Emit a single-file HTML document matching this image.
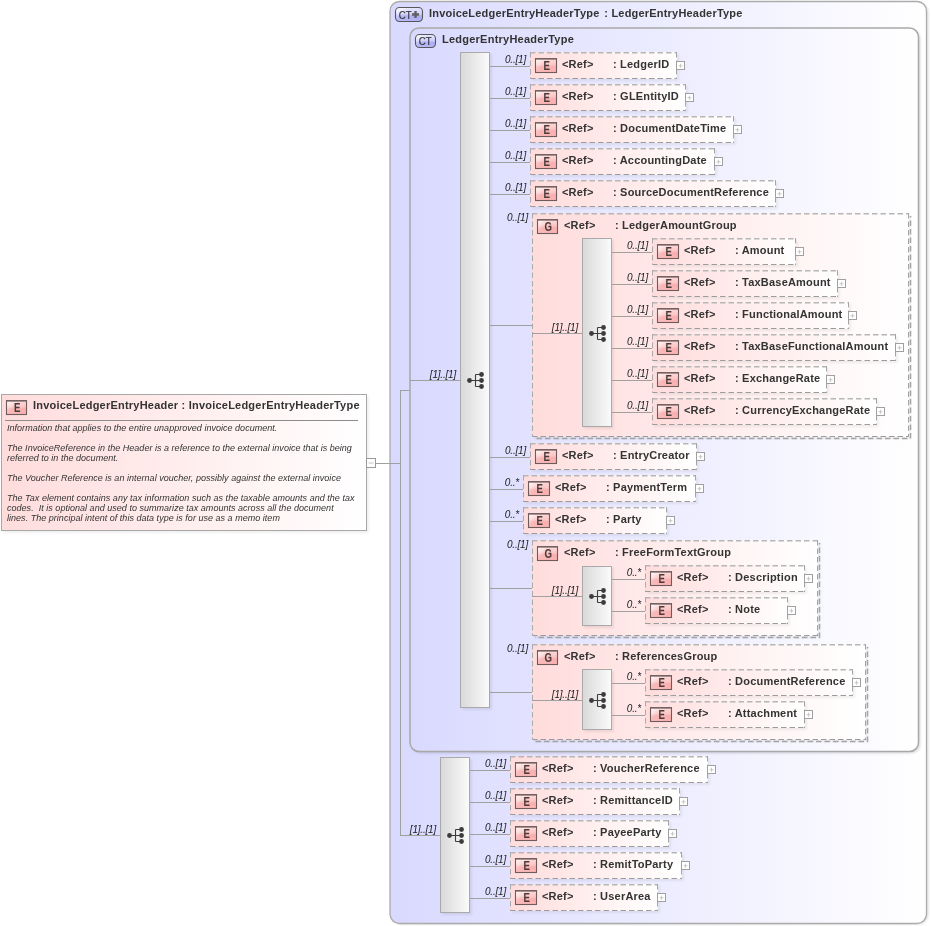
<!DOCTYPE html><html><head><meta charset="utf-8"><style>html,body{margin:0;padding:0;background:#fff;width:931px;height:926px;overflow:hidden}svg{display:block;will-change:transform}text{font-family:"Liberation Sans", sans-serif}</style></head><body>
<svg width="931" height="926" viewBox="0 0 931 926">
<defs><linearGradient id="gCT" x1="0" y1="0" x2="1" y2="0"><stop offset="0" stop-color="#d9d9ff"/><stop offset="1" stop-color="#ffffff"/></linearGradient><linearGradient id="gElem" x1="0" y1="0" x2="1" y2="0"><stop offset="0" stop-color="#ffdcdc"/><stop offset="1" stop-color="#ffffff"/></linearGradient><linearGradient id="gRoot" x1="0" y1="0" x2="1" y2="0"><stop offset="0" stop-color="#ffdcdc"/><stop offset="1" stop-color="#ffffff"/></linearGradient><linearGradient id="gSeq" x1="0" y1="0" x2="1" y2="0"><stop offset="0" stop-color="#d9d9d9"/><stop offset="1" stop-color="#fbfbfb"/></linearGradient><linearGradient id="gBadgeV" x1="0" y1="0" x2="0" y2="1"><stop offset="0" stop-color="#ffd6d6"/><stop offset="0.45" stop-color="#fcc4c4"/><stop offset="0.6" stop-color="#f9acac"/><stop offset="1" stop-color="#fbb6b6"/></linearGradient><linearGradient id="gBadgeH" x1="0" y1="0" x2="1" y2="0.6"><stop offset="0" stop-color="#ffffff" stop-opacity="0.95"/><stop offset="0.45" stop-color="#ffffff" stop-opacity="0.1"/><stop offset="1" stop-color="#ffffff" stop-opacity="0"/></linearGradient><linearGradient id="gCTb" x1="0" y1="0" x2="0" y2="1"><stop offset="0" stop-color="#e4e4ff"/><stop offset="0.45" stop-color="#d0d0fc"/><stop offset="0.6" stop-color="#acacf6"/><stop offset="1" stop-color="#b4b4f8"/></linearGradient><filter id="blur1" x="-5%" y="-5%" width="110%" height="110%"><feGaussianBlur stdDeviation="1"/></filter></defs>
<rect x="3" y="396" width="366" height="137" rx="0" fill="#000" opacity="0.06" filter="url(#blur1)"/>
<rect x="1.5" y="394.5" width="365" height="136" fill="url(#gRoot)" stroke="#a8a8a8" stroke-width="1"/>
<rect x="6.5" y="400.5" width="20" height="14" fill="url(#gBadgeV)"/>
<rect x="6.5" y="400.5" width="20" height="14" fill="url(#gBadgeH)"/>
<rect x="6.5" y="400.6" width="20" height="13.9" fill="none" stroke="#6e5c5c" stroke-width="1.1"/>
<rect x="7" y="401" width="19" height="1" fill="#8a7878" opacity="0.7"/>
<text transform="translate(17.3 412) scale(0.8 1)" text-anchor="middle" font-size="12" font-weight="bold" fill="#4a3b3b" stroke="#4a3b3b" stroke-width="0.1">E</text>
<text x="33" y="409" font-size="11" font-weight="bold" fill="#333" letter-spacing="0.22">InvoiceLedgerEntryHeader : InvoiceLedgerEntryHeaderType</text>
<rect x="5" y="420" width="353" height="1" fill="#8c8c8c"/>
<text x="7" y="430.5" font-size="9" font-style="italic" letter-spacing="0.025" fill="#333">Information that applies to the entire unapproved invoice document.</text>
<text x="7" y="450.5" font-size="9" font-style="italic" letter-spacing="0.025" fill="#333">The InvoiceReference in the Header is a reference to the external invoice that is being</text>
<text x="7" y="460.5" font-size="9" font-style="italic" letter-spacing="0.025" fill="#333">referred to in the document.</text>
<text x="7" y="480.5" font-size="9" font-style="italic" letter-spacing="0.025" fill="#333">The Voucher Reference is an internal voucher, possibly against the external invoice</text>
<text x="7" y="501" font-size="9" font-style="italic" letter-spacing="0.025" fill="#333">The Tax element contains any tax information such as the taxable amounts and the tax</text>
<text x="7" y="511" font-size="9" font-style="italic" letter-spacing="0.025" fill="#333">codes.&#160; It is optional and used to summarize tax amounts across all the document</text>
<text x="7" y="521" font-size="9" font-style="italic" letter-spacing="0.025" fill="#333">lines. The principal intent of this data type is for use as a memo item</text>
<rect x="366.5" y="458.5" width="9" height="9" fill="#fff" stroke="#9a9a9a"/>
<path d="M368.5 463h5" stroke="#c4c4c4" stroke-width="1"/>
<rect x="391.5" y="2.5" width="537" height="922" rx="10" fill="#000" opacity="0.12" filter="url(#blur1)"/>
<rect x="390" y="1.5" width="536.5" height="922" rx="9.5" fill="url(#gCT)" stroke="#ababab" stroke-width="1.3"/>
<rect x="395.5" y="7.5" width="27" height="14" rx="4" fill="url(#gCTb)"/>
<rect x="395.5" y="7.5" width="27" height="14" rx="4" fill="url(#gBadgeH)" stroke="#585858" stroke-width="1.1"/>
<text transform="translate(398.8 18.6) scale(0.92 1)" font-size="10.5" fill="#333" stroke="#333" stroke-width="0.15">CT</text>
<path d="M412 14.5h7M415.5 11v7" stroke="#606060" stroke-width="2.4"/>
<text x="429" y="16.8" font-size="11" font-weight="bold" fill="#333" letter-spacing="0.2">InvoiceLedgerEntryHeaderType</text><text x="604.3" y="16.8" font-size="11" font-weight="bold" fill="#333" letter-spacing="0.2">: LedgerEntryHeaderType</text>
<rect x="376" y="463" width="24" height="1" fill="#a0a0a0"/>
<rect x="400" y="390" width="1" height="446" fill="#a0a0a0"/>
<rect x="400" y="390" width="10" height="1" fill="#a0a0a0"/>
<rect x="400" y="835" width="40" height="1" fill="#a0a0a0"/>
<rect x="411.5" y="29.5" width="509" height="724" rx="9" fill="#000" opacity="0.12" filter="url(#blur1)"/>
<rect x="410" y="28" width="508.5" height="723.5" rx="9" fill="url(#gCT)" stroke="#a8a8a8" stroke-width="1.5"/>
<rect x="415.5" y="34.5" width="20" height="13" rx="4" fill="url(#gCTb)"/>
<rect x="415.5" y="34.5" width="20" height="13" rx="4" fill="url(#gBadgeH)" stroke="#585858" stroke-width="1.1"/>
<text transform="translate(418.8 45.3) scale(0.92 1)" font-size="10.5" fill="#333" stroke="#333" stroke-width="0.15">CT</text>
<text x="442" y="43.2" font-size="11" font-weight="bold" fill="#333" letter-spacing="0.24">LedgerEntryHeaderType</text>
<rect x="410" y="380" width="50" height="1" fill="#a0a0a0"/>
<text transform="translate(456 378) scale(0.5)" text-anchor="end" font-size="20" font-style="italic" letter-spacing="-0.4" fill="#1a1a1a">[1]..[1]</text>
<rect x="462" y="54" width="30" height="656" fill="#000" opacity="0.07" filter="url(#blur1)"/>
<rect x="460.5" y="52.5" width="29" height="655" fill="url(#gSeq)" stroke="#a9a9a9" stroke-width="1"/>
<g fill="#3c3c3c" stroke="none"><circle cx="469.5" cy="380.5" r="2.4"/><circle cx="481.5" cy="374.5" r="2.4"/><circle cx="481.5" cy="380.5" r="2.4"/><circle cx="481.5" cy="386.5" r="2.4"/></g>
<path d="M469.5 380.5H481.5M475.5 374.5V386.5M475.5 374.5H481.5M475.5 386.5H481.5" stroke="#3c3c3c" stroke-width="1.1" fill="none"/>
<rect x="490" y="66" width="40" height="1" fill="#a0a0a0"/>
<text transform="translate(526 63) scale(0.5)" text-anchor="end" font-size="20" font-style="italic" letter-spacing="-0.4" fill="#1a1a1a">0..[1]</text>
<rect x="532" y="54" width="147" height="27" rx="0" fill="#000" opacity="0.06" filter="url(#blur1)"/>
<rect x="530" y="52" width="147" height="27" fill="url(#gElem)"/>
<path d="M530 52.75H677" stroke="#b6b6b6" stroke-width="1.5" stroke-dasharray="5.5,3"/>
<path d="M530 78.5H677" stroke="#9c9c9c" stroke-width="1" stroke-dasharray="5.5,3"/>
<path d="M530.5 52V79" stroke="#aaaaaa" stroke-width="1" stroke-dasharray="5.5,3"/>
<path d="M676.5 52V79" stroke="#a4a4a4" stroke-width="1" stroke-dasharray="5.5,3"/>
<rect x="535.5" y="58.5" width="21" height="14" fill="url(#gBadgeV)"/>
<rect x="535.5" y="58.5" width="21" height="14" fill="url(#gBadgeH)"/>
<rect x="535.5" y="58.6" width="21" height="13.9" fill="none" stroke="#6e5c5c" stroke-width="1.1"/>
<rect x="536" y="59" width="20" height="1" fill="#8a7878" opacity="0.7"/>
<text transform="translate(546.8 70) scale(0.8 1)" text-anchor="middle" font-size="12" font-weight="bold" fill="#4a3b3b" stroke="#4a3b3b" stroke-width="0.1">E</text>
<text x="562" y="68.2" font-size="11" font-weight="bold" fill="#333" letter-spacing="0.2">&lt;Ref&gt;</text>
<text x="613" y="68.2" font-size="11" font-weight="bold" fill="#333" letter-spacing="0.2">: LedgerID</text>
<rect x="676.5" y="61.5" width="8" height="8" fill="#fff" stroke="#a0a0a0" stroke-width="1"/>
<path d="M678.5 65.75h4M680.5 63.75v4" stroke="#c8c8c8" stroke-width="1.1"/>
<rect x="490" y="98" width="40" height="1" fill="#a0a0a0"/>
<text transform="translate(526 95) scale(0.5)" text-anchor="end" font-size="20" font-style="italic" letter-spacing="-0.4" fill="#1a1a1a">0..[1]</text>
<rect x="532" y="86" width="156" height="27" rx="0" fill="#000" opacity="0.06" filter="url(#blur1)"/>
<rect x="530" y="84" width="156" height="27" fill="url(#gElem)"/>
<path d="M530 84.75H686" stroke="#b6b6b6" stroke-width="1.5" stroke-dasharray="5.5,3"/>
<path d="M530 110.5H686" stroke="#9c9c9c" stroke-width="1" stroke-dasharray="5.5,3"/>
<path d="M530.5 84V111" stroke="#aaaaaa" stroke-width="1" stroke-dasharray="5.5,3"/>
<path d="M685.5 84V111" stroke="#a4a4a4" stroke-width="1" stroke-dasharray="5.5,3"/>
<rect x="535.5" y="90.5" width="21" height="14" fill="url(#gBadgeV)"/>
<rect x="535.5" y="90.5" width="21" height="14" fill="url(#gBadgeH)"/>
<rect x="535.5" y="90.6" width="21" height="13.9" fill="none" stroke="#6e5c5c" stroke-width="1.1"/>
<rect x="536" y="91" width="20" height="1" fill="#8a7878" opacity="0.7"/>
<text transform="translate(546.8 102) scale(0.8 1)" text-anchor="middle" font-size="12" font-weight="bold" fill="#4a3b3b" stroke="#4a3b3b" stroke-width="0.1">E</text>
<text x="562" y="100.2" font-size="11" font-weight="bold" fill="#333" letter-spacing="0.2">&lt;Ref&gt;</text>
<text x="613" y="100.2" font-size="11" font-weight="bold" fill="#333" letter-spacing="0.2">: GLEntityID</text>
<rect x="685.5" y="93.5" width="8" height="8" fill="#fff" stroke="#a0a0a0" stroke-width="1"/>
<path d="M687.5 97.75h4M689.5 95.75v4" stroke="#c8c8c8" stroke-width="1.1"/>
<rect x="490" y="130" width="40" height="1" fill="#a0a0a0"/>
<text transform="translate(526 127) scale(0.5)" text-anchor="end" font-size="20" font-style="italic" letter-spacing="-0.4" fill="#1a1a1a">0..[1]</text>
<rect x="532" y="118" width="204" height="27" rx="0" fill="#000" opacity="0.06" filter="url(#blur1)"/>
<rect x="530" y="116" width="204" height="27" fill="url(#gElem)"/>
<path d="M530 116.75H734" stroke="#b6b6b6" stroke-width="1.5" stroke-dasharray="5.5,3"/>
<path d="M530 142.5H734" stroke="#9c9c9c" stroke-width="1" stroke-dasharray="5.5,3"/>
<path d="M530.5 116V143" stroke="#aaaaaa" stroke-width="1" stroke-dasharray="5.5,3"/>
<path d="M733.5 116V143" stroke="#a4a4a4" stroke-width="1" stroke-dasharray="5.5,3"/>
<rect x="535.5" y="122.5" width="21" height="14" fill="url(#gBadgeV)"/>
<rect x="535.5" y="122.5" width="21" height="14" fill="url(#gBadgeH)"/>
<rect x="535.5" y="122.6" width="21" height="13.9" fill="none" stroke="#6e5c5c" stroke-width="1.1"/>
<rect x="536" y="123" width="20" height="1" fill="#8a7878" opacity="0.7"/>
<text transform="translate(546.8 134) scale(0.8 1)" text-anchor="middle" font-size="12" font-weight="bold" fill="#4a3b3b" stroke="#4a3b3b" stroke-width="0.1">E</text>
<text x="562" y="132.2" font-size="11" font-weight="bold" fill="#333" letter-spacing="0.2">&lt;Ref&gt;</text>
<text x="613" y="132.2" font-size="11" font-weight="bold" fill="#333" letter-spacing="0.2">: DocumentDateTime</text>
<rect x="733.5" y="125.5" width="8" height="8" fill="#fff" stroke="#a0a0a0" stroke-width="1"/>
<path d="M735.5 129.75h4M737.5 127.75v4" stroke="#c8c8c8" stroke-width="1.1"/>
<rect x="490" y="162" width="40" height="1" fill="#a0a0a0"/>
<text transform="translate(526 159) scale(0.5)" text-anchor="end" font-size="20" font-style="italic" letter-spacing="-0.4" fill="#1a1a1a">0..[1]</text>
<rect x="532" y="150" width="185" height="27" rx="0" fill="#000" opacity="0.06" filter="url(#blur1)"/>
<rect x="530" y="148" width="185" height="27" fill="url(#gElem)"/>
<path d="M530 148.75H715" stroke="#b6b6b6" stroke-width="1.5" stroke-dasharray="5.5,3"/>
<path d="M530 174.5H715" stroke="#9c9c9c" stroke-width="1" stroke-dasharray="5.5,3"/>
<path d="M530.5 148V175" stroke="#aaaaaa" stroke-width="1" stroke-dasharray="5.5,3"/>
<path d="M714.5 148V175" stroke="#a4a4a4" stroke-width="1" stroke-dasharray="5.5,3"/>
<rect x="535.5" y="154.5" width="21" height="14" fill="url(#gBadgeV)"/>
<rect x="535.5" y="154.5" width="21" height="14" fill="url(#gBadgeH)"/>
<rect x="535.5" y="154.6" width="21" height="13.9" fill="none" stroke="#6e5c5c" stroke-width="1.1"/>
<rect x="536" y="155" width="20" height="1" fill="#8a7878" opacity="0.7"/>
<text transform="translate(546.8 166) scale(0.8 1)" text-anchor="middle" font-size="12" font-weight="bold" fill="#4a3b3b" stroke="#4a3b3b" stroke-width="0.1">E</text>
<text x="562" y="164.2" font-size="11" font-weight="bold" fill="#333" letter-spacing="0.2">&lt;Ref&gt;</text>
<text x="613" y="164.2" font-size="11" font-weight="bold" fill="#333" letter-spacing="0.2">: AccountingDate</text>
<rect x="714.5" y="157.5" width="8" height="8" fill="#fff" stroke="#a0a0a0" stroke-width="1"/>
<path d="M716.5 161.75h4M718.5 159.75v4" stroke="#c8c8c8" stroke-width="1.1"/>
<rect x="490" y="194" width="40" height="1" fill="#a0a0a0"/>
<text transform="translate(526 191) scale(0.5)" text-anchor="end" font-size="20" font-style="italic" letter-spacing="-0.4" fill="#1a1a1a">0..[1]</text>
<rect x="532" y="182" width="246" height="27" rx="0" fill="#000" opacity="0.06" filter="url(#blur1)"/>
<rect x="530" y="180" width="246" height="27" fill="url(#gElem)"/>
<path d="M530 180.75H776" stroke="#b6b6b6" stroke-width="1.5" stroke-dasharray="5.5,3"/>
<path d="M530 206.5H776" stroke="#9c9c9c" stroke-width="1" stroke-dasharray="5.5,3"/>
<path d="M530.5 180V207" stroke="#aaaaaa" stroke-width="1" stroke-dasharray="5.5,3"/>
<path d="M775.5 180V207" stroke="#a4a4a4" stroke-width="1" stroke-dasharray="5.5,3"/>
<rect x="535.5" y="186.5" width="21" height="14" fill="url(#gBadgeV)"/>
<rect x="535.5" y="186.5" width="21" height="14" fill="url(#gBadgeH)"/>
<rect x="535.5" y="186.6" width="21" height="13.9" fill="none" stroke="#6e5c5c" stroke-width="1.1"/>
<rect x="536" y="187" width="20" height="1" fill="#8a7878" opacity="0.7"/>
<text transform="translate(546.8 198) scale(0.8 1)" text-anchor="middle" font-size="12" font-weight="bold" fill="#4a3b3b" stroke="#4a3b3b" stroke-width="0.1">E</text>
<text x="562" y="196.2" font-size="11" font-weight="bold" fill="#333" letter-spacing="0.2">&lt;Ref&gt;</text>
<text x="613" y="196.2" font-size="11" font-weight="bold" fill="#333" letter-spacing="0.2">: SourceDocumentReference</text>
<rect x="775.5" y="189.5" width="8" height="8" fill="#fff" stroke="#a0a0a0" stroke-width="1"/>
<path d="M777.5 193.75h4M779.5 191.75v4" stroke="#c8c8c8" stroke-width="1.1"/>
<rect x="490" y="325" width="42" height="1" fill="#a0a0a0"/>
<text transform="translate(528 221) scale(0.5)" text-anchor="end" font-size="20" font-style="italic" letter-spacing="-0.4" fill="#1a1a1a">0..[1]</text>
<rect x="534" y="215" width="377" height="224" rx="0" fill="#000" opacity="0.06" filter="url(#blur1)"/>
<rect x="532" y="213" width="377" height="224" fill="url(#gElem)"/>
<path d="M532 213.75H909" stroke="#b6b6b6" stroke-width="1.5" stroke-dasharray="5.5,3"/>
<path d="M532 436.5H909" stroke="#9c9c9c" stroke-width="1" stroke-dasharray="5.5,3"/>
<path d="M532.5 213V437" stroke="#aaaaaa" stroke-width="1" stroke-dasharray="5.5,3"/>
<path d="M908.5 213V437" stroke="#a4a4a4" stroke-width="1" stroke-dasharray="5.5,3"/>
<path d="M910.5 216V438.5H535" fill="none" stroke="#a4a4a4" stroke-width="1.5" stroke-dasharray="5.5,3" stroke-dashoffset="4"/>
<rect x="537.5" y="219.5" width="20" height="14" fill="url(#gBadgeV)"/>
<rect x="537.5" y="219.5" width="20" height="14" fill="url(#gBadgeH)"/>
<rect x="537.5" y="219.6" width="20" height="13.9" fill="none" stroke="#6e5c5c" stroke-width="1.1"/>
<rect x="538" y="220" width="19" height="1" fill="#8a7878" opacity="0.7"/>
<text transform="translate(548.3 231) scale(0.8 1)" text-anchor="middle" font-size="12" font-weight="bold" fill="#4a3b3b" stroke="#4a3b3b" stroke-width="0.1">G</text>
<text x="564" y="229" font-size="11" font-weight="bold" fill="#333" letter-spacing="0.2">&lt;Ref&gt;</text>
<text x="615" y="229" font-size="11" font-weight="bold" fill="#333" letter-spacing="0.2">: LedgerAmountGroup</text>
<rect x="532" y="333" width="50" height="1" fill="#a0a0a0"/>
<text transform="translate(578 331) scale(0.5)" text-anchor="end" font-size="20" font-style="italic" letter-spacing="-0.4" fill="#1a1a1a">[1]..[1]</text>
<rect x="584" y="240" width="30" height="189" fill="#000" opacity="0.07" filter="url(#blur1)"/>
<rect x="582.5" y="238.5" width="29" height="188" fill="url(#gSeq)" stroke="#a9a9a9" stroke-width="1"/>
<g fill="#3c3c3c" stroke="none"><circle cx="591.5" cy="333.5" r="2.4"/><circle cx="603.5" cy="327.5" r="2.4"/><circle cx="603.5" cy="333.5" r="2.4"/><circle cx="603.5" cy="339.5" r="2.4"/></g>
<path d="M591.5 333.5H603.5M597.5 327.5V339.5M597.5 327.5H603.5M597.5 339.5H603.5" stroke="#3c3c3c" stroke-width="1.1" fill="none"/>
<rect x="612" y="252" width="40" height="1" fill="#a0a0a0"/>
<text transform="translate(648 249) scale(0.5)" text-anchor="end" font-size="20" font-style="italic" letter-spacing="-0.4" fill="#1a1a1a">0..[1]</text>
<rect x="654" y="240" width="144" height="27" rx="0" fill="#000" opacity="0.06" filter="url(#blur1)"/>
<rect x="652" y="238" width="144" height="27" fill="url(#gElem)"/>
<path d="M652 238.75H796" stroke="#b6b6b6" stroke-width="1.5" stroke-dasharray="5.5,3"/>
<path d="M652 264.5H796" stroke="#9c9c9c" stroke-width="1" stroke-dasharray="5.5,3"/>
<path d="M652.5 238V265" stroke="#aaaaaa" stroke-width="1" stroke-dasharray="5.5,3"/>
<path d="M795.5 238V265" stroke="#a4a4a4" stroke-width="1" stroke-dasharray="5.5,3"/>
<rect x="657.5" y="244.5" width="21" height="14" fill="url(#gBadgeV)"/>
<rect x="657.5" y="244.5" width="21" height="14" fill="url(#gBadgeH)"/>
<rect x="657.5" y="244.6" width="21" height="13.9" fill="none" stroke="#6e5c5c" stroke-width="1.1"/>
<rect x="658" y="245" width="20" height="1" fill="#8a7878" opacity="0.7"/>
<text transform="translate(668.8 256) scale(0.8 1)" text-anchor="middle" font-size="12" font-weight="bold" fill="#4a3b3b" stroke="#4a3b3b" stroke-width="0.1">E</text>
<text x="684" y="254.2" font-size="11" font-weight="bold" fill="#333" letter-spacing="0.2">&lt;Ref&gt;</text>
<text x="735" y="254.2" font-size="11" font-weight="bold" fill="#333" letter-spacing="0.2">: Amount</text>
<rect x="795.5" y="247.5" width="8" height="8" fill="#fff" stroke="#a0a0a0" stroke-width="1"/>
<path d="M797.5 251.75h4M799.5 249.75v4" stroke="#c8c8c8" stroke-width="1.1"/>
<rect x="612" y="284" width="40" height="1" fill="#a0a0a0"/>
<text transform="translate(648 281) scale(0.5)" text-anchor="end" font-size="20" font-style="italic" letter-spacing="-0.4" fill="#1a1a1a">0..[1]</text>
<rect x="654" y="272" width="186" height="27" rx="0" fill="#000" opacity="0.06" filter="url(#blur1)"/>
<rect x="652" y="270" width="186" height="27" fill="url(#gElem)"/>
<path d="M652 270.75H838" stroke="#b6b6b6" stroke-width="1.5" stroke-dasharray="5.5,3"/>
<path d="M652 296.5H838" stroke="#9c9c9c" stroke-width="1" stroke-dasharray="5.5,3"/>
<path d="M652.5 270V297" stroke="#aaaaaa" stroke-width="1" stroke-dasharray="5.5,3"/>
<path d="M837.5 270V297" stroke="#a4a4a4" stroke-width="1" stroke-dasharray="5.5,3"/>
<rect x="657.5" y="276.5" width="21" height="14" fill="url(#gBadgeV)"/>
<rect x="657.5" y="276.5" width="21" height="14" fill="url(#gBadgeH)"/>
<rect x="657.5" y="276.6" width="21" height="13.9" fill="none" stroke="#6e5c5c" stroke-width="1.1"/>
<rect x="658" y="277" width="20" height="1" fill="#8a7878" opacity="0.7"/>
<text transform="translate(668.8 288) scale(0.8 1)" text-anchor="middle" font-size="12" font-weight="bold" fill="#4a3b3b" stroke="#4a3b3b" stroke-width="0.1">E</text>
<text x="684" y="286.2" font-size="11" font-weight="bold" fill="#333" letter-spacing="0.2">&lt;Ref&gt;</text>
<text x="735" y="286.2" font-size="11" font-weight="bold" fill="#333" letter-spacing="0.2">: TaxBaseAmount</text>
<rect x="837.5" y="279.5" width="8" height="8" fill="#fff" stroke="#a0a0a0" stroke-width="1"/>
<path d="M839.5 283.75h4M841.5 281.75v4" stroke="#c8c8c8" stroke-width="1.1"/>
<rect x="612" y="316" width="40" height="1" fill="#a0a0a0"/>
<text transform="translate(648 313) scale(0.5)" text-anchor="end" font-size="20" font-style="italic" letter-spacing="-0.4" fill="#1a1a1a">0..[1]</text>
<rect x="654" y="304" width="197" height="27" rx="0" fill="#000" opacity="0.06" filter="url(#blur1)"/>
<rect x="652" y="302" width="197" height="27" fill="url(#gElem)"/>
<path d="M652 302.75H849" stroke="#b6b6b6" stroke-width="1.5" stroke-dasharray="5.5,3"/>
<path d="M652 328.5H849" stroke="#9c9c9c" stroke-width="1" stroke-dasharray="5.5,3"/>
<path d="M652.5 302V329" stroke="#aaaaaa" stroke-width="1" stroke-dasharray="5.5,3"/>
<path d="M848.5 302V329" stroke="#a4a4a4" stroke-width="1" stroke-dasharray="5.5,3"/>
<rect x="657.5" y="308.5" width="21" height="14" fill="url(#gBadgeV)"/>
<rect x="657.5" y="308.5" width="21" height="14" fill="url(#gBadgeH)"/>
<rect x="657.5" y="308.6" width="21" height="13.9" fill="none" stroke="#6e5c5c" stroke-width="1.1"/>
<rect x="658" y="309" width="20" height="1" fill="#8a7878" opacity="0.7"/>
<text transform="translate(668.8 320) scale(0.8 1)" text-anchor="middle" font-size="12" font-weight="bold" fill="#4a3b3b" stroke="#4a3b3b" stroke-width="0.1">E</text>
<text x="684" y="318.2" font-size="11" font-weight="bold" fill="#333" letter-spacing="0.2">&lt;Ref&gt;</text>
<text x="735" y="318.2" font-size="11" font-weight="bold" fill="#333" letter-spacing="0.2">: FunctionalAmount</text>
<rect x="848.5" y="311.5" width="8" height="8" fill="#fff" stroke="#a0a0a0" stroke-width="1"/>
<path d="M850.5 315.75h4M852.5 313.75v4" stroke="#c8c8c8" stroke-width="1.1"/>
<rect x="612" y="348" width="40" height="1" fill="#a0a0a0"/>
<text transform="translate(648 345) scale(0.5)" text-anchor="end" font-size="20" font-style="italic" letter-spacing="-0.4" fill="#1a1a1a">0..[1]</text>
<rect x="654" y="336" width="244" height="27" rx="0" fill="#000" opacity="0.06" filter="url(#blur1)"/>
<rect x="652" y="334" width="244" height="27" fill="url(#gElem)"/>
<path d="M652 334.75H896" stroke="#b6b6b6" stroke-width="1.5" stroke-dasharray="5.5,3"/>
<path d="M652 360.5H896" stroke="#9c9c9c" stroke-width="1" stroke-dasharray="5.5,3"/>
<path d="M652.5 334V361" stroke="#aaaaaa" stroke-width="1" stroke-dasharray="5.5,3"/>
<path d="M895.5 334V361" stroke="#a4a4a4" stroke-width="1" stroke-dasharray="5.5,3"/>
<rect x="657.5" y="340.5" width="21" height="14" fill="url(#gBadgeV)"/>
<rect x="657.5" y="340.5" width="21" height="14" fill="url(#gBadgeH)"/>
<rect x="657.5" y="340.6" width="21" height="13.9" fill="none" stroke="#6e5c5c" stroke-width="1.1"/>
<rect x="658" y="341" width="20" height="1" fill="#8a7878" opacity="0.7"/>
<text transform="translate(668.8 352) scale(0.8 1)" text-anchor="middle" font-size="12" font-weight="bold" fill="#4a3b3b" stroke="#4a3b3b" stroke-width="0.1">E</text>
<text x="684" y="350.2" font-size="11" font-weight="bold" fill="#333" letter-spacing="0.2">&lt;Ref&gt;</text>
<text x="735" y="350.2" font-size="11" font-weight="bold" fill="#333" letter-spacing="0.2">: TaxBaseFunctionalAmount</text>
<rect x="895.5" y="343.5" width="8" height="8" fill="#fff" stroke="#a0a0a0" stroke-width="1"/>
<path d="M897.5 347.75h4M899.5 345.75v4" stroke="#c8c8c8" stroke-width="1.1"/>
<rect x="612" y="380" width="40" height="1" fill="#a0a0a0"/>
<text transform="translate(648 377) scale(0.5)" text-anchor="end" font-size="20" font-style="italic" letter-spacing="-0.4" fill="#1a1a1a">0..[1]</text>
<rect x="654" y="368" width="175" height="27" rx="0" fill="#000" opacity="0.06" filter="url(#blur1)"/>
<rect x="652" y="366" width="175" height="27" fill="url(#gElem)"/>
<path d="M652 366.75H827" stroke="#b6b6b6" stroke-width="1.5" stroke-dasharray="5.5,3"/>
<path d="M652 392.5H827" stroke="#9c9c9c" stroke-width="1" stroke-dasharray="5.5,3"/>
<path d="M652.5 366V393" stroke="#aaaaaa" stroke-width="1" stroke-dasharray="5.5,3"/>
<path d="M826.5 366V393" stroke="#a4a4a4" stroke-width="1" stroke-dasharray="5.5,3"/>
<rect x="657.5" y="372.5" width="21" height="14" fill="url(#gBadgeV)"/>
<rect x="657.5" y="372.5" width="21" height="14" fill="url(#gBadgeH)"/>
<rect x="657.5" y="372.6" width="21" height="13.9" fill="none" stroke="#6e5c5c" stroke-width="1.1"/>
<rect x="658" y="373" width="20" height="1" fill="#8a7878" opacity="0.7"/>
<text transform="translate(668.8 384) scale(0.8 1)" text-anchor="middle" font-size="12" font-weight="bold" fill="#4a3b3b" stroke="#4a3b3b" stroke-width="0.1">E</text>
<text x="684" y="382.2" font-size="11" font-weight="bold" fill="#333" letter-spacing="0.2">&lt;Ref&gt;</text>
<text x="735" y="382.2" font-size="11" font-weight="bold" fill="#333" letter-spacing="0.2">: ExchangeRate</text>
<rect x="826.5" y="375.5" width="8" height="8" fill="#fff" stroke="#a0a0a0" stroke-width="1"/>
<path d="M828.5 379.75h4M830.5 377.75v4" stroke="#c8c8c8" stroke-width="1.1"/>
<rect x="612" y="412" width="40" height="1" fill="#a0a0a0"/>
<text transform="translate(648 409) scale(0.5)" text-anchor="end" font-size="20" font-style="italic" letter-spacing="-0.4" fill="#1a1a1a">0..[1]</text>
<rect x="654" y="400" width="225" height="27" rx="0" fill="#000" opacity="0.06" filter="url(#blur1)"/>
<rect x="652" y="398" width="225" height="27" fill="url(#gElem)"/>
<path d="M652 398.75H877" stroke="#b6b6b6" stroke-width="1.5" stroke-dasharray="5.5,3"/>
<path d="M652 424.5H877" stroke="#9c9c9c" stroke-width="1" stroke-dasharray="5.5,3"/>
<path d="M652.5 398V425" stroke="#aaaaaa" stroke-width="1" stroke-dasharray="5.5,3"/>
<path d="M876.5 398V425" stroke="#a4a4a4" stroke-width="1" stroke-dasharray="5.5,3"/>
<rect x="657.5" y="404.5" width="21" height="14" fill="url(#gBadgeV)"/>
<rect x="657.5" y="404.5" width="21" height="14" fill="url(#gBadgeH)"/>
<rect x="657.5" y="404.6" width="21" height="13.9" fill="none" stroke="#6e5c5c" stroke-width="1.1"/>
<rect x="658" y="405" width="20" height="1" fill="#8a7878" opacity="0.7"/>
<text transform="translate(668.8 416) scale(0.8 1)" text-anchor="middle" font-size="12" font-weight="bold" fill="#4a3b3b" stroke="#4a3b3b" stroke-width="0.1">E</text>
<text x="684" y="414.2" font-size="11" font-weight="bold" fill="#333" letter-spacing="0.2">&lt;Ref&gt;</text>
<text x="735" y="414.2" font-size="11" font-weight="bold" fill="#333" letter-spacing="0.2">: CurrencyExchangeRate</text>
<rect x="876.5" y="407.5" width="8" height="8" fill="#fff" stroke="#a0a0a0" stroke-width="1"/>
<path d="M878.5 411.75h4M880.5 409.75v4" stroke="#c8c8c8" stroke-width="1.1"/>
<rect x="490" y="457" width="40" height="1" fill="#a0a0a0"/>
<text transform="translate(526 454) scale(0.5)" text-anchor="end" font-size="20" font-style="italic" letter-spacing="-0.4" fill="#1a1a1a">0..[1]</text>
<rect x="532" y="445" width="167" height="27" rx="0" fill="#000" opacity="0.06" filter="url(#blur1)"/>
<rect x="530" y="443" width="167" height="27" fill="url(#gElem)"/>
<path d="M530 443.75H697" stroke="#b6b6b6" stroke-width="1.5" stroke-dasharray="5.5,3"/>
<path d="M530 469.5H697" stroke="#9c9c9c" stroke-width="1" stroke-dasharray="5.5,3"/>
<path d="M530.5 443V470" stroke="#aaaaaa" stroke-width="1" stroke-dasharray="5.5,3"/>
<path d="M696.5 443V470" stroke="#a4a4a4" stroke-width="1" stroke-dasharray="5.5,3"/>
<rect x="535.5" y="449.5" width="21" height="14" fill="url(#gBadgeV)"/>
<rect x="535.5" y="449.5" width="21" height="14" fill="url(#gBadgeH)"/>
<rect x="535.5" y="449.6" width="21" height="13.9" fill="none" stroke="#6e5c5c" stroke-width="1.1"/>
<rect x="536" y="450" width="20" height="1" fill="#8a7878" opacity="0.7"/>
<text transform="translate(546.8 461) scale(0.8 1)" text-anchor="middle" font-size="12" font-weight="bold" fill="#4a3b3b" stroke="#4a3b3b" stroke-width="0.1">E</text>
<text x="562" y="459.2" font-size="11" font-weight="bold" fill="#333" letter-spacing="0.2">&lt;Ref&gt;</text>
<text x="613" y="459.2" font-size="11" font-weight="bold" fill="#333" letter-spacing="0.2">: EntryCreator</text>
<rect x="696.5" y="452.5" width="8" height="8" fill="#fff" stroke="#a0a0a0" stroke-width="1"/>
<path d="M698.5 456.75h4M700.5 454.75v4" stroke="#c8c8c8" stroke-width="1.1"/>
<rect x="490" y="489" width="33" height="1" fill="#a0a0a0"/>
<text transform="translate(519 486) scale(0.5)" text-anchor="end" font-size="20" font-style="italic" letter-spacing="-0.4" fill="#1a1a1a">0..*</text>
<rect x="525" y="477" width="173" height="27" rx="0" fill="#000" opacity="0.06" filter="url(#blur1)"/>
<rect x="523" y="475" width="173" height="27" fill="url(#gElem)"/>
<path d="M523 475.75H696" stroke="#b6b6b6" stroke-width="1.5" stroke-dasharray="5.5,3"/>
<path d="M523 501.5H696" stroke="#9c9c9c" stroke-width="1" stroke-dasharray="5.5,3"/>
<path d="M523.5 475V502" stroke="#aaaaaa" stroke-width="1" stroke-dasharray="5.5,3"/>
<path d="M695.5 475V502" stroke="#a4a4a4" stroke-width="1" stroke-dasharray="5.5,3"/>
<rect x="528.5" y="481.5" width="21" height="14" fill="url(#gBadgeV)"/>
<rect x="528.5" y="481.5" width="21" height="14" fill="url(#gBadgeH)"/>
<rect x="528.5" y="481.6" width="21" height="13.9" fill="none" stroke="#6e5c5c" stroke-width="1.1"/>
<rect x="529" y="482" width="20" height="1" fill="#8a7878" opacity="0.7"/>
<text transform="translate(539.8 493) scale(0.8 1)" text-anchor="middle" font-size="12" font-weight="bold" fill="#4a3b3b" stroke="#4a3b3b" stroke-width="0.1">E</text>
<text x="555" y="491.2" font-size="11" font-weight="bold" fill="#333" letter-spacing="0.2">&lt;Ref&gt;</text>
<text x="606" y="491.2" font-size="11" font-weight="bold" fill="#333" letter-spacing="0.2">: PaymentTerm</text>
<rect x="695.5" y="484.5" width="8" height="8" fill="#fff" stroke="#a0a0a0" stroke-width="1"/>
<path d="M697.5 488.75h4M699.5 486.75v4" stroke="#c8c8c8" stroke-width="1.1"/>
<rect x="490" y="521" width="33" height="1" fill="#a0a0a0"/>
<text transform="translate(519 518) scale(0.5)" text-anchor="end" font-size="20" font-style="italic" letter-spacing="-0.4" fill="#1a1a1a">0..*</text>
<rect x="525" y="509" width="144" height="27" rx="0" fill="#000" opacity="0.06" filter="url(#blur1)"/>
<rect x="523" y="507" width="144" height="27" fill="url(#gElem)"/>
<path d="M523 507.75H667" stroke="#b6b6b6" stroke-width="1.5" stroke-dasharray="5.5,3"/>
<path d="M523 533.5H667" stroke="#9c9c9c" stroke-width="1" stroke-dasharray="5.5,3"/>
<path d="M523.5 507V534" stroke="#aaaaaa" stroke-width="1" stroke-dasharray="5.5,3"/>
<path d="M666.5 507V534" stroke="#a4a4a4" stroke-width="1" stroke-dasharray="5.5,3"/>
<rect x="528.5" y="513.5" width="21" height="14" fill="url(#gBadgeV)"/>
<rect x="528.5" y="513.5" width="21" height="14" fill="url(#gBadgeH)"/>
<rect x="528.5" y="513.6" width="21" height="13.9" fill="none" stroke="#6e5c5c" stroke-width="1.1"/>
<rect x="529" y="514" width="20" height="1" fill="#8a7878" opacity="0.7"/>
<text transform="translate(539.8 525) scale(0.8 1)" text-anchor="middle" font-size="12" font-weight="bold" fill="#4a3b3b" stroke="#4a3b3b" stroke-width="0.1">E</text>
<text x="555" y="523.2" font-size="11" font-weight="bold" fill="#333" letter-spacing="0.2">&lt;Ref&gt;</text>
<text x="606" y="523.2" font-size="11" font-weight="bold" fill="#333" letter-spacing="0.2">: Party</text>
<rect x="666.5" y="516.5" width="8" height="8" fill="#fff" stroke="#a0a0a0" stroke-width="1"/>
<path d="M668.5 520.75h4M670.5 518.75v4" stroke="#c8c8c8" stroke-width="1.1"/>
<rect x="490" y="588" width="42" height="1" fill="#a0a0a0"/>
<text transform="translate(528 548) scale(0.5)" text-anchor="end" font-size="20" font-style="italic" letter-spacing="-0.4" fill="#1a1a1a">0..[1]</text>
<rect x="534" y="542" width="286" height="96" rx="0" fill="#000" opacity="0.06" filter="url(#blur1)"/>
<rect x="532" y="540" width="286" height="96" fill="url(#gElem)"/>
<path d="M532 540.75H818" stroke="#b6b6b6" stroke-width="1.5" stroke-dasharray="5.5,3"/>
<path d="M532 635.5H818" stroke="#9c9c9c" stroke-width="1" stroke-dasharray="5.5,3"/>
<path d="M532.5 540V636" stroke="#aaaaaa" stroke-width="1" stroke-dasharray="5.5,3"/>
<path d="M817.5 540V636" stroke="#a4a4a4" stroke-width="1" stroke-dasharray="5.5,3"/>
<path d="M819.5 543V637.5H535" fill="none" stroke="#a4a4a4" stroke-width="1.5" stroke-dasharray="5.5,3" stroke-dashoffset="4"/>
<rect x="537.5" y="546.5" width="20" height="14" fill="url(#gBadgeV)"/>
<rect x="537.5" y="546.5" width="20" height="14" fill="url(#gBadgeH)"/>
<rect x="537.5" y="546.6" width="20" height="13.9" fill="none" stroke="#6e5c5c" stroke-width="1.1"/>
<rect x="538" y="547" width="19" height="1" fill="#8a7878" opacity="0.7"/>
<text transform="translate(548.3 558) scale(0.8 1)" text-anchor="middle" font-size="12" font-weight="bold" fill="#4a3b3b" stroke="#4a3b3b" stroke-width="0.1">G</text>
<text x="564" y="556" font-size="11" font-weight="bold" fill="#333" letter-spacing="0.2">&lt;Ref&gt;</text>
<text x="615" y="556" font-size="11" font-weight="bold" fill="#333" letter-spacing="0.2">: FreeFormTextGroup</text>
<rect x="532" y="596" width="50" height="1" fill="#a0a0a0"/>
<text transform="translate(578 594) scale(0.5)" text-anchor="end" font-size="20" font-style="italic" letter-spacing="-0.4" fill="#1a1a1a">[1]..[1]</text>
<rect x="584" y="568" width="30" height="60" fill="#000" opacity="0.07" filter="url(#blur1)"/>
<rect x="582.5" y="566.5" width="29" height="59" fill="url(#gSeq)" stroke="#a9a9a9" stroke-width="1"/>
<g fill="#3c3c3c" stroke="none"><circle cx="591.5" cy="596.5" r="2.4"/><circle cx="603.5" cy="590.5" r="2.4"/><circle cx="603.5" cy="596.5" r="2.4"/><circle cx="603.5" cy="602.5" r="2.4"/></g>
<path d="M591.5 596.5H603.5M597.5 590.5V602.5M597.5 590.5H603.5M597.5 602.5H603.5" stroke="#3c3c3c" stroke-width="1.1" fill="none"/>
<rect x="612" y="579" width="33" height="1" fill="#a0a0a0"/>
<text transform="translate(641 576) scale(0.5)" text-anchor="end" font-size="20" font-style="italic" letter-spacing="-0.4" fill="#1a1a1a">0..*</text>
<rect x="647" y="567" width="160" height="27" rx="0" fill="#000" opacity="0.06" filter="url(#blur1)"/>
<rect x="645" y="565" width="160" height="27" fill="url(#gElem)"/>
<path d="M645 565.75H805" stroke="#b6b6b6" stroke-width="1.5" stroke-dasharray="5.5,3"/>
<path d="M645 591.5H805" stroke="#9c9c9c" stroke-width="1" stroke-dasharray="5.5,3"/>
<path d="M645.5 565V592" stroke="#aaaaaa" stroke-width="1" stroke-dasharray="5.5,3"/>
<path d="M804.5 565V592" stroke="#a4a4a4" stroke-width="1" stroke-dasharray="5.5,3"/>
<rect x="650.5" y="571.5" width="21" height="14" fill="url(#gBadgeV)"/>
<rect x="650.5" y="571.5" width="21" height="14" fill="url(#gBadgeH)"/>
<rect x="650.5" y="571.6" width="21" height="13.9" fill="none" stroke="#6e5c5c" stroke-width="1.1"/>
<rect x="651" y="572" width="20" height="1" fill="#8a7878" opacity="0.7"/>
<text transform="translate(661.8 583) scale(0.8 1)" text-anchor="middle" font-size="12" font-weight="bold" fill="#4a3b3b" stroke="#4a3b3b" stroke-width="0.1">E</text>
<text x="677" y="581.2" font-size="11" font-weight="bold" fill="#333" letter-spacing="0.2">&lt;Ref&gt;</text>
<text x="728" y="581.2" font-size="11" font-weight="bold" fill="#333" letter-spacing="0.2">: Description</text>
<rect x="804.5" y="574.5" width="8" height="8" fill="#fff" stroke="#a0a0a0" stroke-width="1"/>
<path d="M806.5 578.75h4M808.5 576.75v4" stroke="#c8c8c8" stroke-width="1.1"/>
<rect x="612" y="611" width="33" height="1" fill="#a0a0a0"/>
<text transform="translate(641 608) scale(0.5)" text-anchor="end" font-size="20" font-style="italic" letter-spacing="-0.4" fill="#1a1a1a">0..*</text>
<rect x="647" y="599" width="143" height="27" rx="0" fill="#000" opacity="0.06" filter="url(#blur1)"/>
<rect x="645" y="597" width="143" height="27" fill="url(#gElem)"/>
<path d="M645 597.75H788" stroke="#b6b6b6" stroke-width="1.5" stroke-dasharray="5.5,3"/>
<path d="M645 623.5H788" stroke="#9c9c9c" stroke-width="1" stroke-dasharray="5.5,3"/>
<path d="M645.5 597V624" stroke="#aaaaaa" stroke-width="1" stroke-dasharray="5.5,3"/>
<path d="M787.5 597V624" stroke="#a4a4a4" stroke-width="1" stroke-dasharray="5.5,3"/>
<rect x="650.5" y="603.5" width="21" height="14" fill="url(#gBadgeV)"/>
<rect x="650.5" y="603.5" width="21" height="14" fill="url(#gBadgeH)"/>
<rect x="650.5" y="603.6" width="21" height="13.9" fill="none" stroke="#6e5c5c" stroke-width="1.1"/>
<rect x="651" y="604" width="20" height="1" fill="#8a7878" opacity="0.7"/>
<text transform="translate(661.8 615) scale(0.8 1)" text-anchor="middle" font-size="12" font-weight="bold" fill="#4a3b3b" stroke="#4a3b3b" stroke-width="0.1">E</text>
<text x="677" y="613.2" font-size="11" font-weight="bold" fill="#333" letter-spacing="0.2">&lt;Ref&gt;</text>
<text x="728" y="613.2" font-size="11" font-weight="bold" fill="#333" letter-spacing="0.2">: Note</text>
<rect x="787.5" y="606.5" width="8" height="8" fill="#fff" stroke="#a0a0a0" stroke-width="1"/>
<path d="M789.5 610.75h4M791.5 608.75v4" stroke="#c8c8c8" stroke-width="1.1"/>
<rect x="490" y="692" width="42" height="1" fill="#a0a0a0"/>
<text transform="translate(528 652) scale(0.5)" text-anchor="end" font-size="20" font-style="italic" letter-spacing="-0.4" fill="#1a1a1a">0..[1]</text>
<rect x="534" y="646" width="334" height="96" rx="0" fill="#000" opacity="0.06" filter="url(#blur1)"/>
<rect x="532" y="644" width="334" height="96" fill="url(#gElem)"/>
<path d="M532 644.75H866" stroke="#b6b6b6" stroke-width="1.5" stroke-dasharray="5.5,3"/>
<path d="M532 739.5H866" stroke="#9c9c9c" stroke-width="1" stroke-dasharray="5.5,3"/>
<path d="M532.5 644V740" stroke="#aaaaaa" stroke-width="1" stroke-dasharray="5.5,3"/>
<path d="M865.5 644V740" stroke="#a4a4a4" stroke-width="1" stroke-dasharray="5.5,3"/>
<path d="M867.5 647V741.5H535" fill="none" stroke="#a4a4a4" stroke-width="1.5" stroke-dasharray="5.5,3" stroke-dashoffset="4"/>
<rect x="537.5" y="650.5" width="20" height="14" fill="url(#gBadgeV)"/>
<rect x="537.5" y="650.5" width="20" height="14" fill="url(#gBadgeH)"/>
<rect x="537.5" y="650.6" width="20" height="13.9" fill="none" stroke="#6e5c5c" stroke-width="1.1"/>
<rect x="538" y="651" width="19" height="1" fill="#8a7878" opacity="0.7"/>
<text transform="translate(548.3 662) scale(0.8 1)" text-anchor="middle" font-size="12" font-weight="bold" fill="#4a3b3b" stroke="#4a3b3b" stroke-width="0.1">G</text>
<text x="564" y="660" font-size="11" font-weight="bold" fill="#333" letter-spacing="0.2">&lt;Ref&gt;</text>
<text x="615" y="660" font-size="11" font-weight="bold" fill="#333" letter-spacing="0.2">: ReferencesGroup</text>
<rect x="532" y="700" width="50" height="1" fill="#a0a0a0"/>
<text transform="translate(578 698) scale(0.5)" text-anchor="end" font-size="20" font-style="italic" letter-spacing="-0.4" fill="#1a1a1a">[1]..[1]</text>
<rect x="584" y="671" width="30" height="61" fill="#000" opacity="0.07" filter="url(#blur1)"/>
<rect x="582.5" y="669.5" width="29" height="60" fill="url(#gSeq)" stroke="#a9a9a9" stroke-width="1"/>
<g fill="#3c3c3c" stroke="none"><circle cx="591.5" cy="700.5" r="2.4"/><circle cx="603.5" cy="694.5" r="2.4"/><circle cx="603.5" cy="700.5" r="2.4"/><circle cx="603.5" cy="706.5" r="2.4"/></g>
<path d="M591.5 700.5H603.5M597.5 694.5V706.5M597.5 694.5H603.5M597.5 706.5H603.5" stroke="#3c3c3c" stroke-width="1.1" fill="none"/>
<rect x="612" y="683" width="33" height="1" fill="#a0a0a0"/>
<text transform="translate(641 680) scale(0.5)" text-anchor="end" font-size="20" font-style="italic" letter-spacing="-0.4" fill="#1a1a1a">0..*</text>
<rect x="647" y="671" width="208" height="27" rx="0" fill="#000" opacity="0.06" filter="url(#blur1)"/>
<rect x="645" y="669" width="208" height="27" fill="url(#gElem)"/>
<path d="M645 669.75H853" stroke="#b6b6b6" stroke-width="1.5" stroke-dasharray="5.5,3"/>
<path d="M645 695.5H853" stroke="#9c9c9c" stroke-width="1" stroke-dasharray="5.5,3"/>
<path d="M645.5 669V696" stroke="#aaaaaa" stroke-width="1" stroke-dasharray="5.5,3"/>
<path d="M852.5 669V696" stroke="#a4a4a4" stroke-width="1" stroke-dasharray="5.5,3"/>
<rect x="650.5" y="675.5" width="21" height="14" fill="url(#gBadgeV)"/>
<rect x="650.5" y="675.5" width="21" height="14" fill="url(#gBadgeH)"/>
<rect x="650.5" y="675.6" width="21" height="13.9" fill="none" stroke="#6e5c5c" stroke-width="1.1"/>
<rect x="651" y="676" width="20" height="1" fill="#8a7878" opacity="0.7"/>
<text transform="translate(661.8 687) scale(0.8 1)" text-anchor="middle" font-size="12" font-weight="bold" fill="#4a3b3b" stroke="#4a3b3b" stroke-width="0.1">E</text>
<text x="677" y="685.2" font-size="11" font-weight="bold" fill="#333" letter-spacing="0.2">&lt;Ref&gt;</text>
<text x="728" y="685.2" font-size="11" font-weight="bold" fill="#333" letter-spacing="0.2">: DocumentReference</text>
<rect x="852.5" y="678.5" width="8" height="8" fill="#fff" stroke="#a0a0a0" stroke-width="1"/>
<path d="M854.5 682.75h4M856.5 680.75v4" stroke="#c8c8c8" stroke-width="1.1"/>
<rect x="612" y="715" width="33" height="1" fill="#a0a0a0"/>
<text transform="translate(641 712) scale(0.5)" text-anchor="end" font-size="20" font-style="italic" letter-spacing="-0.4" fill="#1a1a1a">0..*</text>
<rect x="647" y="703" width="160" height="27" rx="0" fill="#000" opacity="0.06" filter="url(#blur1)"/>
<rect x="645" y="701" width="160" height="27" fill="url(#gElem)"/>
<path d="M645 701.75H805" stroke="#b6b6b6" stroke-width="1.5" stroke-dasharray="5.5,3"/>
<path d="M645 727.5H805" stroke="#9c9c9c" stroke-width="1" stroke-dasharray="5.5,3"/>
<path d="M645.5 701V728" stroke="#aaaaaa" stroke-width="1" stroke-dasharray="5.5,3"/>
<path d="M804.5 701V728" stroke="#a4a4a4" stroke-width="1" stroke-dasharray="5.5,3"/>
<rect x="650.5" y="707.5" width="21" height="14" fill="url(#gBadgeV)"/>
<rect x="650.5" y="707.5" width="21" height="14" fill="url(#gBadgeH)"/>
<rect x="650.5" y="707.6" width="21" height="13.9" fill="none" stroke="#6e5c5c" stroke-width="1.1"/>
<rect x="651" y="708" width="20" height="1" fill="#8a7878" opacity="0.7"/>
<text transform="translate(661.8 719) scale(0.8 1)" text-anchor="middle" font-size="12" font-weight="bold" fill="#4a3b3b" stroke="#4a3b3b" stroke-width="0.1">E</text>
<text x="677" y="717.2" font-size="11" font-weight="bold" fill="#333" letter-spacing="0.2">&lt;Ref&gt;</text>
<text x="728" y="717.2" font-size="11" font-weight="bold" fill="#333" letter-spacing="0.2">: Attachment</text>
<rect x="804.5" y="710.5" width="8" height="8" fill="#fff" stroke="#a0a0a0" stroke-width="1"/>
<path d="M806.5 714.75h4M808.5 712.75v4" stroke="#c8c8c8" stroke-width="1.1"/>
<text transform="translate(436 833) scale(0.5)" text-anchor="end" font-size="20" font-style="italic" letter-spacing="-0.4" fill="#1a1a1a">[1]..[1]</text>
<rect x="442" y="759" width="30" height="156" fill="#000" opacity="0.07" filter="url(#blur1)"/>
<rect x="440.5" y="757.5" width="29" height="155" fill="url(#gSeq)" stroke="#a9a9a9" stroke-width="1"/>
<g fill="#3c3c3c" stroke="none"><circle cx="449.5" cy="835.5" r="2.4"/><circle cx="461.5" cy="829.5" r="2.4"/><circle cx="461.5" cy="835.5" r="2.4"/><circle cx="461.5" cy="841.5" r="2.4"/></g>
<path d="M449.5 835.5H461.5M455.5 829.5V841.5M455.5 829.5H461.5M455.5 841.5H461.5" stroke="#3c3c3c" stroke-width="1.1" fill="none"/>
<rect x="470" y="770" width="40" height="1" fill="#a0a0a0"/>
<text transform="translate(506 767) scale(0.5)" text-anchor="end" font-size="20" font-style="italic" letter-spacing="-0.4" fill="#1a1a1a">0..[1]</text>
<rect x="512" y="758" width="198" height="27" rx="0" fill="#000" opacity="0.06" filter="url(#blur1)"/>
<rect x="510" y="756" width="198" height="27" fill="url(#gElem)"/>
<path d="M510 756.75H708" stroke="#b6b6b6" stroke-width="1.5" stroke-dasharray="5.5,3"/>
<path d="M510 782.5H708" stroke="#9c9c9c" stroke-width="1" stroke-dasharray="5.5,3"/>
<path d="M510.5 756V783" stroke="#aaaaaa" stroke-width="1" stroke-dasharray="5.5,3"/>
<path d="M707.5 756V783" stroke="#a4a4a4" stroke-width="1" stroke-dasharray="5.5,3"/>
<rect x="515.5" y="762.5" width="21" height="14" fill="url(#gBadgeV)"/>
<rect x="515.5" y="762.5" width="21" height="14" fill="url(#gBadgeH)"/>
<rect x="515.5" y="762.6" width="21" height="13.9" fill="none" stroke="#6e5c5c" stroke-width="1.1"/>
<rect x="516" y="763" width="20" height="1" fill="#8a7878" opacity="0.7"/>
<text transform="translate(526.8 774) scale(0.8 1)" text-anchor="middle" font-size="12" font-weight="bold" fill="#4a3b3b" stroke="#4a3b3b" stroke-width="0.1">E</text>
<text x="542" y="772.2" font-size="11" font-weight="bold" fill="#333" letter-spacing="0.2">&lt;Ref&gt;</text>
<text x="593" y="772.2" font-size="11" font-weight="bold" fill="#333" letter-spacing="0.2">: VoucherReference</text>
<rect x="707.5" y="765.5" width="8" height="8" fill="#fff" stroke="#a0a0a0" stroke-width="1"/>
<path d="M709.5 769.75h4M711.5 767.75v4" stroke="#c8c8c8" stroke-width="1.1"/>
<rect x="470" y="802" width="40" height="1" fill="#a0a0a0"/>
<text transform="translate(506 799) scale(0.5)" text-anchor="end" font-size="20" font-style="italic" letter-spacing="-0.4" fill="#1a1a1a">0..[1]</text>
<rect x="512" y="790" width="170" height="27" rx="0" fill="#000" opacity="0.06" filter="url(#blur1)"/>
<rect x="510" y="788" width="170" height="27" fill="url(#gElem)"/>
<path d="M510 788.75H680" stroke="#b6b6b6" stroke-width="1.5" stroke-dasharray="5.5,3"/>
<path d="M510 814.5H680" stroke="#9c9c9c" stroke-width="1" stroke-dasharray="5.5,3"/>
<path d="M510.5 788V815" stroke="#aaaaaa" stroke-width="1" stroke-dasharray="5.5,3"/>
<path d="M679.5 788V815" stroke="#a4a4a4" stroke-width="1" stroke-dasharray="5.5,3"/>
<rect x="515.5" y="794.5" width="21" height="14" fill="url(#gBadgeV)"/>
<rect x="515.5" y="794.5" width="21" height="14" fill="url(#gBadgeH)"/>
<rect x="515.5" y="794.6" width="21" height="13.9" fill="none" stroke="#6e5c5c" stroke-width="1.1"/>
<rect x="516" y="795" width="20" height="1" fill="#8a7878" opacity="0.7"/>
<text transform="translate(526.8 806) scale(0.8 1)" text-anchor="middle" font-size="12" font-weight="bold" fill="#4a3b3b" stroke="#4a3b3b" stroke-width="0.1">E</text>
<text x="542" y="804.2" font-size="11" font-weight="bold" fill="#333" letter-spacing="0.2">&lt;Ref&gt;</text>
<text x="593" y="804.2" font-size="11" font-weight="bold" fill="#333" letter-spacing="0.2">: RemittanceID</text>
<rect x="679.5" y="797.5" width="8" height="8" fill="#fff" stroke="#a0a0a0" stroke-width="1"/>
<path d="M681.5 801.75h4M683.5 799.75v4" stroke="#c8c8c8" stroke-width="1.1"/>
<rect x="470" y="834" width="40" height="1" fill="#a0a0a0"/>
<text transform="translate(506 831) scale(0.5)" text-anchor="end" font-size="20" font-style="italic" letter-spacing="-0.4" fill="#1a1a1a">0..[1]</text>
<rect x="512" y="822" width="159" height="27" rx="0" fill="#000" opacity="0.06" filter="url(#blur1)"/>
<rect x="510" y="820" width="159" height="27" fill="url(#gElem)"/>
<path d="M510 820.75H669" stroke="#b6b6b6" stroke-width="1.5" stroke-dasharray="5.5,3"/>
<path d="M510 846.5H669" stroke="#9c9c9c" stroke-width="1" stroke-dasharray="5.5,3"/>
<path d="M510.5 820V847" stroke="#aaaaaa" stroke-width="1" stroke-dasharray="5.5,3"/>
<path d="M668.5 820V847" stroke="#a4a4a4" stroke-width="1" stroke-dasharray="5.5,3"/>
<rect x="515.5" y="826.5" width="21" height="14" fill="url(#gBadgeV)"/>
<rect x="515.5" y="826.5" width="21" height="14" fill="url(#gBadgeH)"/>
<rect x="515.5" y="826.6" width="21" height="13.9" fill="none" stroke="#6e5c5c" stroke-width="1.1"/>
<rect x="516" y="827" width="20" height="1" fill="#8a7878" opacity="0.7"/>
<text transform="translate(526.8 838) scale(0.8 1)" text-anchor="middle" font-size="12" font-weight="bold" fill="#4a3b3b" stroke="#4a3b3b" stroke-width="0.1">E</text>
<text x="542" y="836.2" font-size="11" font-weight="bold" fill="#333" letter-spacing="0.2">&lt;Ref&gt;</text>
<text x="593" y="836.2" font-size="11" font-weight="bold" fill="#333" letter-spacing="0.2">: PayeeParty</text>
<rect x="668.5" y="829.5" width="8" height="8" fill="#fff" stroke="#a0a0a0" stroke-width="1"/>
<path d="M670.5 833.75h4M672.5 831.75v4" stroke="#c8c8c8" stroke-width="1.1"/>
<rect x="470" y="866" width="40" height="1" fill="#a0a0a0"/>
<text transform="translate(506 863) scale(0.5)" text-anchor="end" font-size="20" font-style="italic" letter-spacing="-0.4" fill="#1a1a1a">0..[1]</text>
<rect x="512" y="854" width="172" height="27" rx="0" fill="#000" opacity="0.06" filter="url(#blur1)"/>
<rect x="510" y="852" width="172" height="27" fill="url(#gElem)"/>
<path d="M510 852.75H682" stroke="#b6b6b6" stroke-width="1.5" stroke-dasharray="5.5,3"/>
<path d="M510 878.5H682" stroke="#9c9c9c" stroke-width="1" stroke-dasharray="5.5,3"/>
<path d="M510.5 852V879" stroke="#aaaaaa" stroke-width="1" stroke-dasharray="5.5,3"/>
<path d="M681.5 852V879" stroke="#a4a4a4" stroke-width="1" stroke-dasharray="5.5,3"/>
<rect x="515.5" y="858.5" width="21" height="14" fill="url(#gBadgeV)"/>
<rect x="515.5" y="858.5" width="21" height="14" fill="url(#gBadgeH)"/>
<rect x="515.5" y="858.6" width="21" height="13.9" fill="none" stroke="#6e5c5c" stroke-width="1.1"/>
<rect x="516" y="859" width="20" height="1" fill="#8a7878" opacity="0.7"/>
<text transform="translate(526.8 870) scale(0.8 1)" text-anchor="middle" font-size="12" font-weight="bold" fill="#4a3b3b" stroke="#4a3b3b" stroke-width="0.1">E</text>
<text x="542" y="868.2" font-size="11" font-weight="bold" fill="#333" letter-spacing="0.2">&lt;Ref&gt;</text>
<text x="593" y="868.2" font-size="11" font-weight="bold" fill="#333" letter-spacing="0.2">: RemitToParty</text>
<rect x="681.5" y="861.5" width="8" height="8" fill="#fff" stroke="#a0a0a0" stroke-width="1"/>
<path d="M683.5 865.75h4M685.5 863.75v4" stroke="#c8c8c8" stroke-width="1.1"/>
<rect x="470" y="898" width="40" height="1" fill="#a0a0a0"/>
<text transform="translate(506 895) scale(0.5)" text-anchor="end" font-size="20" font-style="italic" letter-spacing="-0.4" fill="#1a1a1a">0..[1]</text>
<rect x="512" y="886" width="148" height="27" rx="0" fill="#000" opacity="0.06" filter="url(#blur1)"/>
<rect x="510" y="884" width="148" height="27" fill="url(#gElem)"/>
<path d="M510 884.75H658" stroke="#b6b6b6" stroke-width="1.5" stroke-dasharray="5.5,3"/>
<path d="M510 910.5H658" stroke="#9c9c9c" stroke-width="1" stroke-dasharray="5.5,3"/>
<path d="M510.5 884V911" stroke="#aaaaaa" stroke-width="1" stroke-dasharray="5.5,3"/>
<path d="M657.5 884V911" stroke="#a4a4a4" stroke-width="1" stroke-dasharray="5.5,3"/>
<rect x="515.5" y="890.5" width="21" height="14" fill="url(#gBadgeV)"/>
<rect x="515.5" y="890.5" width="21" height="14" fill="url(#gBadgeH)"/>
<rect x="515.5" y="890.6" width="21" height="13.9" fill="none" stroke="#6e5c5c" stroke-width="1.1"/>
<rect x="516" y="891" width="20" height="1" fill="#8a7878" opacity="0.7"/>
<text transform="translate(526.8 902) scale(0.8 1)" text-anchor="middle" font-size="12" font-weight="bold" fill="#4a3b3b" stroke="#4a3b3b" stroke-width="0.1">E</text>
<text x="542" y="900.2" font-size="11" font-weight="bold" fill="#333" letter-spacing="0.2">&lt;Ref&gt;</text>
<text x="593" y="900.2" font-size="11" font-weight="bold" fill="#333" letter-spacing="0.2">: UserArea</text>
<rect x="657.5" y="893.5" width="8" height="8" fill="#fff" stroke="#a0a0a0" stroke-width="1"/>
<path d="M659.5 897.75h4M661.5 895.75v4" stroke="#c8c8c8" stroke-width="1.1"/>
</svg></body></html>
